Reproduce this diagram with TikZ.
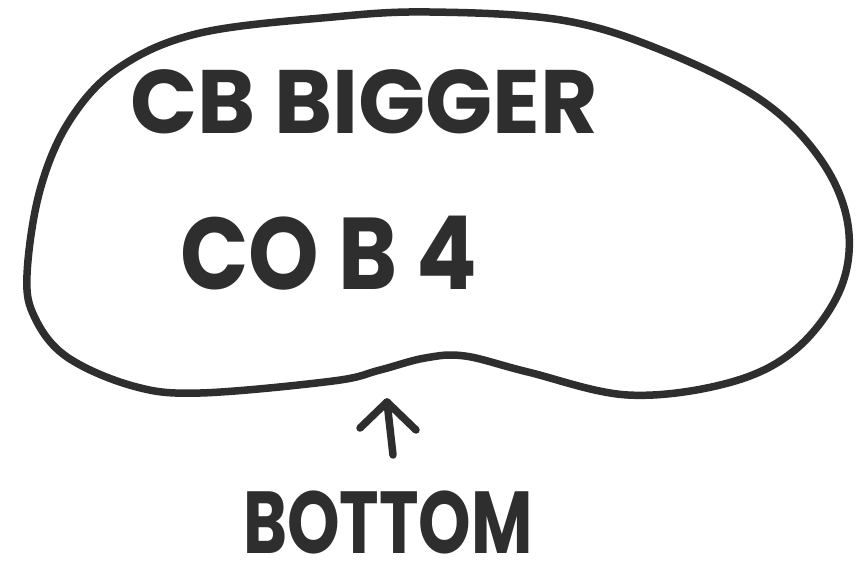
\documentclass[tikz,border=0pt]{standalone}
\usepackage{fontspec}
\setmainfont{Poppins}
\definecolor{ink}{HTML}{2E2E2E}
\tikzset{
  outline/.style={draw=ink, line width=7.5pt, line join=round},
  hand/.style={text=ink, inner sep=0pt, anchor=base west},
  pointer/.style={draw=ink, line width=7.5pt, line cap=round, line join=round}
}
\begin{document}
\begin{tikzpicture}[x=1pt,y=-1pt]
\useasboundingbox (0,0) rectangle (858,563);
\fill[white] (0,0) rectangle (858,563);
\draw[outline] plot[smooth cycle, tension=0.6] coordinates {
 (27,275) (40,190) (70,120) (120,67) (200,33) (333,17) (430,12) (561,20)
 (661,50) (761,100) (821,160) (848,225) (840,290) (795,350) (728,383)
 (628,395) (528,372) (465,356) (425,358) (380,370) (333,381) (200,393)
 (133,386) (67,357) (35,318)};
\node[hand, font=\fontsize{90}{90}\selectfont\bfseries, xscale=0.98] (top) at (130,133) {CB BIGGER};
\node[hand, font=\fontsize{102}{102}\selectfont\bfseries, xscale=0.88] (mid) at (180,289) {CO B 4};
\node[hand, font=\fontsize{88}{88}\selectfont\bfseries, xscale=0.76] (bot) at (243,553) {BOTTOM};
\coordinate (tip) at (387,402);
\coordinate (base) at (393,455);
\draw[pointer] (base) -- (tip);
\draw[pointer] (360,428) -- (tip) -- (416,430);
\end{tikzpicture}
\end{document}
